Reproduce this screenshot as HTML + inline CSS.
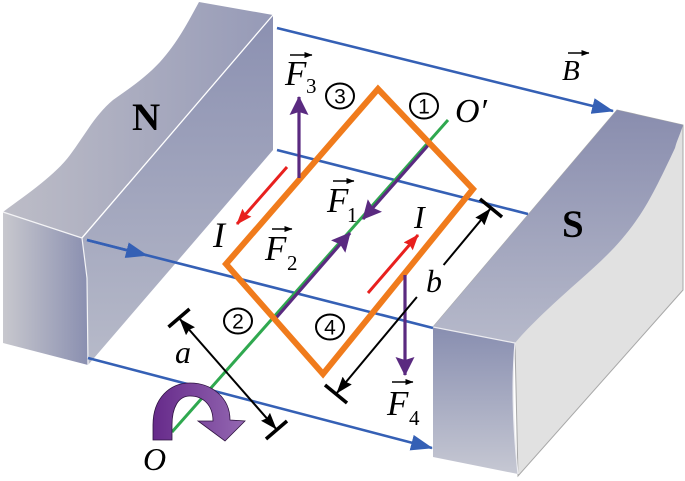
<!DOCTYPE html>
<html>
<head>
<meta charset="utf-8">
<style>
html,body{margin:0;padding:0;background:#fff;}
svg{display:block;}
</style>
</head>
<body>
<svg width="685" height="481" viewBox="0 0 685 481" xmlns="http://www.w3.org/2000/svg">
<defs>
  <linearGradient id="nTop" x1="0" y1="0" x2="1" y2="0">
    <stop offset="0" stop-color="#bdbdc7"/>
    <stop offset="1" stop-color="#969ab7"/>
  </linearGradient>
  <linearGradient id="nIn" x1="0" y1="0" x2="0" y2="1">
    <stop offset="0" stop-color="#8b90b1"/>
    <stop offset="1" stop-color="#b7bac9"/>
  </linearGradient>
  <linearGradient id="nEnd" x1="0" y1="0" x2="1" y2="0">
    <stop offset="0" stop-color="#c8c8ce"/>
    <stop offset="1" stop-color="#8a8fb0"/>
  </linearGradient>
  <linearGradient id="sTop" x1="0" y1="0" x2="0" y2="1">
    <stop offset="0" stop-color="#898dae"/>
    <stop offset="1" stop-color="#b6b9ca"/>
  </linearGradient>
  <linearGradient id="sEnd" x1="0" y1="0" x2="0" y2="1">
    <stop offset="0" stop-color="#888eb0"/>
    <stop offset="1" stop-color="#c6c8d3"/>
  </linearGradient>
  <linearGradient id="rot" x1="0" y1="0" x2="1" y2="0">
    <stop offset="0" stop-color="#662a8a"/>
    <stop offset="1" stop-color="#9468b2"/>
  </linearGradient>
  <marker id="mBlue" markerUnits="userSpaceOnUse" markerWidth="22" markerHeight="16" refX="21" refY="8" orient="auto">
    <path d="M0,0 L22,8 L0,16 Z" fill="#3560b5"/>
  </marker>
  <marker id="mPurple" markerUnits="userSpaceOnUse" markerWidth="19" markerHeight="19" refX="18" refY="9.5" orient="auto">
    <path d="M0,0 L19,9.5 L0,19 L3,9.5 Z" fill="#5a2a80"/>
  </marker>
  <marker id="mRed" markerUnits="userSpaceOnUse" markerWidth="16" markerHeight="12" refX="15" refY="6" orient="auto">
    <path d="M0,0 L16,6 L0,12 L2,6 Z" fill="#e8201e"/>
  </marker>
  <marker id="mBlack" markerUnits="userSpaceOnUse" markerWidth="17" markerHeight="12" refX="16" refY="6" orient="auto">
    <path d="M0,0 L17,6 L0,12 L2,6 Z" fill="#000"/>
  </marker>
  <marker id="mSmall" markerUnits="userSpaceOnUse" markerWidth="8" markerHeight="6" refX="7.5" refY="3" orient="auto">
    <path d="M0,0 L8,3 L0,6 Z" fill="#000"/>
  </marker>
</defs>

<!-- N magnet -->
<path d="M199,2 L273,15 L81,238 L3,212 C30,192 55,175 70,155 C85,135 95,115 113,100 C130,88 145,78 160,62 C178,42 188,22 199,2 Z" fill="url(#nTop)"/>
<path d="M273,15 L273,150 L88,365 L87,278 L82,238 Z" fill="url(#nIn)"/>
<path d="M3,212 L82,238 L87,278 L88,365 L3,343 Z" fill="url(#nEnd)"/>
<path d="M273,15 L82,238" stroke="#fff" stroke-width="1.3" fill="none"/>
<path d="M3,212 L82,238 L87,278 L88,365" stroke="#f4f4f6" stroke-width="1.2" fill="none"/>

<!-- S magnet -->
<path d="M683,125 L683,290 L518,476 L515,343 L433,327 L617,110 Z" fill="#e1e1e1" stroke="#a8a8a8" stroke-width="1"/>
<path d="M617,110 L683,125 C680,135 677,140 675,148 C660,180 650,200 640,215 C620,245 600,262 580,280 C555,302 530,325 515,343 L433,327 Z" fill="url(#sTop)"/>
<path d="M433,327 L515,343 Q510,400 518,474 L433,457 Z" fill="url(#sEnd)"/>
<path d="M433,327 L515,343 Q510,400 518,474" stroke="#ececf0" stroke-width="1.2" fill="none"/>

<!-- blue field lines -->
<g stroke="#3560b5" stroke-width="2.6" fill="none">
  <line x1="277" y1="28" x2="613" y2="111" marker-end="url(#mBlue)"/>
  <line x1="277" y1="150" x2="528" y2="214"/>
  <line x1="87" y1="240" x2="433" y2="328"/>
  <line x1="87" y1="240" x2="147" y2="255.4" marker-end="url(#mBlue)"/>
  <line x1="88" y1="358" x2="432" y2="448" marker-end="url(#mBlue)"/>
</g>

<!-- axis -->
<line x1="172" y1="432" x2="448" y2="120" stroke="#2fa84f" stroke-width="3"/>

<!-- F1 / F2 -->
<g stroke="#5a2a80" stroke-width="3.2" fill="none">
  <line x1="431" y1="142" x2="363" y2="219" marker-end="url(#mPurple)"/>
  <line x1="276" y1="318" x2="350" y2="233" marker-end="url(#mPurple)"/>
</g>

<!-- loop -->
<path d="M378,89 L473,189 L323,374 L226,264 Z" fill="none" stroke="#f07b1c" stroke-width="6" stroke-linejoin="miter"/>

<!-- red current arrows -->
<g stroke="#e8201e" stroke-width="3" fill="none">
  <line x1="287" y1="167" x2="237" y2="224" marker-end="url(#mRed)"/>
  <line x1="368" y1="293" x2="418" y2="235" marker-end="url(#mRed)"/>
</g>

<!-- F3 / F4 -->
<g stroke="#5a2a80" stroke-width="3.2" fill="none">
  <line x1="299" y1="178" x2="299" y2="97" marker-end="url(#mPurple)"/>
  <line x1="405" y1="275" x2="405" y2="375" marker-end="url(#mPurple)"/>
</g>

<!-- dimension b -->
<g stroke="#000" fill="none">
  <line x1="443.6" y1="265" x2="490" y2="209.2" stroke-width="2" marker-end="url(#mBlack)"/>
  <line x1="416.9" y1="297" x2="337" y2="392.8" stroke-width="2" marker-end="url(#mBlack)"/>
  <line x1="480" y1="199" x2="502" y2="217" stroke-width="3.5"/>
  <line x1="325" y1="385" x2="347" y2="403" stroke-width="3.5"/>
</g>
<!-- dimension a -->
<g stroke="#000" fill="none">
  <line x1="228" y1="374" x2="180" y2="319.2" stroke-width="2" marker-end="url(#mBlack)"/>
  <line x1="228" y1="374" x2="276" y2="428.8" stroke-width="2" marker-end="url(#mBlack)"/>
  <line x1="168.5" y1="327" x2="189.5" y2="309" stroke-width="3.5"/>
  <line x1="266" y1="439" x2="287" y2="421" stroke-width="3.5"/>
</g>

<!-- rotation arrow -->
<path d="M153,440 L153,425 C153,398 170,383 190,383 C212,383 230,398 230,420 L245,421 L225,441 L198,421 L213,421 C213,405 203,396 190,396 C178,396 172,408 172,425 L172,440 Z" fill="url(#rot)" stroke="#2e1240" stroke-width="0.8"/>

<!-- circled numbers -->
<g fill="none" stroke="#000" stroke-width="2">
  <ellipse cx="340" cy="96" rx="14" ry="12.5"/>
  <ellipse cx="424" cy="106" rx="14" ry="12.5"/>
  <ellipse cx="238" cy="321" rx="14" ry="12.5"/>
  <ellipse cx="330" cy="327" rx="14" ry="12.5"/>
</g>
<g font-family="Liberation Sans, sans-serif" font-size="21" text-anchor="middle" fill="#000">
  <text x="340" y="103.5">3</text>
  <text x="424" y="113.5">1</text>
  <text x="238" y="328.5">2</text>
  <text x="330" y="334.5">4</text>
</g>

<!-- vector arrows over labels -->
<g stroke="#000" stroke-width="1.5" fill="none">
  <line x1="568" y1="53" x2="589" y2="53" marker-end="url(#mSmall)"/>
  <line x1="290" y1="55" x2="312" y2="55" marker-end="url(#mSmall)"/>
  <line x1="333" y1="181" x2="354" y2="181" marker-end="url(#mSmall)"/>
  <line x1="272" y1="229" x2="292" y2="229" marker-end="url(#mSmall)"/>
  <line x1="392" y1="382" x2="413" y2="382" marker-end="url(#mSmall)"/>
</g>

<!-- labels -->
<g font-family="Liberation Serif, serif" fill="#000">
  <text x="132" y="130" font-size="39" font-weight="bold">N</text>
  <text x="562" y="237" font-size="39" font-weight="bold">S</text>
  <g font-style="italic">
    <text x="562" y="80" font-size="29">B</text>
    <text x="285" y="85" font-size="35">F</text>
    <text x="327" y="212" font-size="35">F</text>
    <text x="265" y="260" font-size="35">F</text>
    <text x="387" y="415" font-size="35">F</text>
    <text x="213" y="247" font-size="36">I</text>
    <text x="414" y="228" font-size="32">I</text>
    <text x="455" y="122" font-size="34">O′</text>
    <text x="143" y="470" font-size="32">O</text>
    <text x="175" y="363" font-size="32">a</text>
    <text x="426" y="292" font-size="32">b</text>
  </g>
  <g font-size="21">
    <text x="306" y="93">3</text>
    <text x="347" y="222">1</text>
    <text x="287" y="270">2</text>
    <text x="409" y="425">4</text>
  </g>
</g>
</svg>
</body>
</html>
